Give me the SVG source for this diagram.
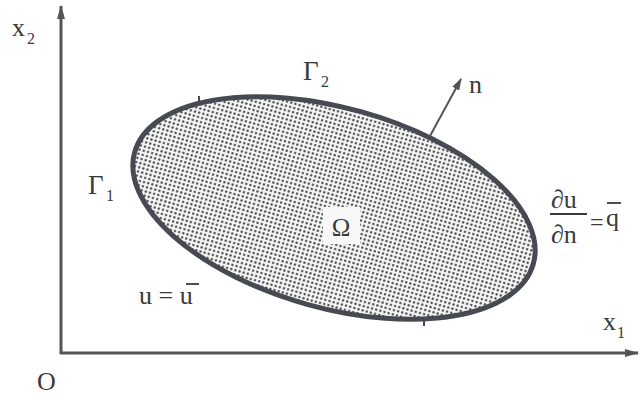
<svg xmlns="http://www.w3.org/2000/svg" width="640" height="395" viewBox="0 0 640 395">
<style>
text{font-family:"Liberation Serif","DejaVu Serif",serif;fill:#3a3a3a}
.ax{stroke:#555;stroke-width:3;fill:none}
.bar{stroke:#3a3a3a;stroke-width:1.8}
</style>
<defs>
<pattern id="dots" width="4.3" height="4.3" patternUnits="userSpaceOnUse">
<rect width="4.3" height="4.3" fill="#f6f6f6"/>
<circle cx="2.15" cy="2.15" r="1.2" fill="#4a4a4a"/>
</pattern>
<marker id="ah" viewBox="0 0 14 8" refX="13" refY="4" markerWidth="14" markerHeight="8" markerUnits="userSpaceOnUse" orient="auto">
<path d="M0,0 L14,4 L0,8 Z" fill="#555"/>
</marker>
<marker id="nh" viewBox="0 0 12 8" refX="11" refY="4" markerWidth="12" markerHeight="8" markerUnits="userSpaceOnUse" orient="auto">
<path d="M0,0 L12,4 L0,8 Z" fill="#555"/>
</marker>
</defs>
<rect width="640" height="395" fill="#fff"/>
<g id="axes">
<line class="ax" x1="61" y1="354" x2="61" y2="6" marker-end="url(#ah)"/>
<line class="ax" x1="60" y1="353" x2="638" y2="353" marker-end="url(#ah)"/>
</g>
<g id="domain">
<ellipse cx="334" cy="208" rx="207" ry="100" transform="rotate(15.65 334 208)" fill="url(#dots)" stroke="#474a52" stroke-width="5"/>
<line x1="199" y1="96" x2="199" y2="103" stroke="#474a52" stroke-width="2"/>
<line x1="424" y1="318" x2="424" y2="326" stroke="#474a52" stroke-width="2"/>
<rect x="323" y="207" width="37" height="37" fill="#f8f8f8"/>
<text x="341" y="236" font-size="25" text-anchor="middle">Ω</text>
</g>
<g id="connectors">
<line x1="430" y1="136" x2="461" y2="79" stroke="#555" stroke-width="2" marker-end="url(#nh)"/>
</g>
<g id="labels">
<text x="12" y="36" font-size="26">x</text><text x="27" y="44" font-size="16">2</text>
<text x="603" y="330" font-size="26">x</text><text x="617" y="338" font-size="16">1</text>
<text x="37" y="390" font-size="26">O</text>
<text x="303" y="80" font-size="27">Γ</text><text x="321" y="87" font-size="16">2</text>
<text x="88" y="194" font-size="27">Γ</text><text x="106" y="201" font-size="16">1</text>
<text x="469" y="93" font-size="26">n</text>
<text x="139" y="304" font-size="26">u = u</text><line class="bar" x1="186" y1="284" x2="199" y2="284"/>
<text x="551" y="208" font-size="26">∂u</text>
<line class="bar" x1="550" y1="214" x2="587" y2="214"/>
<text x="551" y="243" font-size="26">∂n</text>
<text x="590" y="230" font-size="24">=</text>
<text x="606" y="226" font-size="26">q</text><line class="bar" x1="607" y1="203" x2="621" y2="203"/>
</g>
</svg>
